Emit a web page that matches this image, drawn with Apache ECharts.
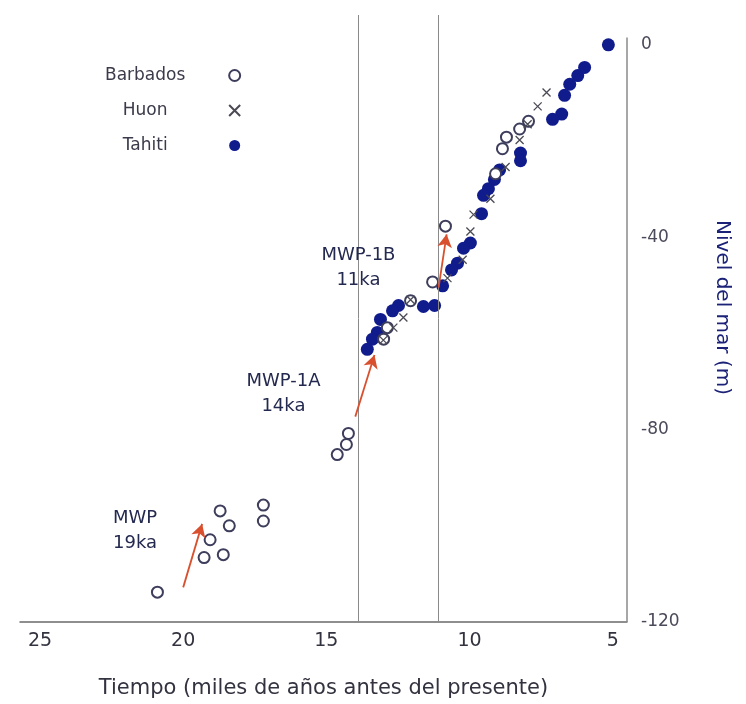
<!DOCTYPE html>
<html>
<head>
<meta charset="utf-8">
<script src="https://cdn.jsdelivr.net/npm/echarts@6/dist/echarts.min.js"></script>
<style>
  html, body { margin: 0; padding: 0; background: #ffffff; }
  #chart { width: 746px; height: 704px; }
</style>
</head>
<body>
<div id="chart"></div>
<script>
// Sea-level records since the last glacial maximum: [age (ka BP), sea level (m)]
const barbados = [
  [20.9, -113.8], [19.27, -106.6], [18.6, -106.0], [19.06, -102.9], [18.71, -96.9],
  [18.39, -100.0], [17.2, -95.7], [17.2, -99.0],
  [14.62, -85.2], [14.3, -83.1], [14.23, -80.8],
  [13.0, -61.2], [12.87, -58.8], [12.06, -53.2], [11.29, -49.3], [10.84, -37.7],
  [9.09, -26.8], [8.85, -21.6], [8.71, -19.2], [8.25, -17.5], [7.94, -15.9]
];
const huon = [
  [7.31, -9.9], [7.62, -12.8], [7.97, -16.5], [8.25, -19.8], [8.74, -25.4],
  [9.27, -32.0], [9.86, -35.3], [9.97, -38.8], [10.24, -44.7], [10.77, -48.5],
  [12.06, -53.0], [12.31, -56.7], [12.66, -58.8], [13.01, -61.4]
];
const tahiti = [
  [5.15, 0], [5.98, -4.7], [6.22, -6.4], [6.5, -8.2], [6.68, -10.5], [6.78, -14.4],
  [7.1, -15.5], [8.22, -22.5], [8.22, -24.1], [8.95, -26.0], [9.13, -28.0],
  [9.34, -29.9], [9.51, -31.3], [9.58, -35.1], [9.97, -41.2], [10.21, -42.3],
  [10.42, -45.4], [10.63, -46.8], [10.94, -50.1], [11.22, -54.2], [11.61, -54.4],
  [12.48, -54.2], [12.69, -55.3], [13.11, -57.1], [13.22, -59.8], [13.39, -61.2],
  [13.57, -63.3]
];

// Tick labels
const ageTicks = [5, 10, 15, 20, 25];
const levelTicks = [0, -40, -80, -120];

// Axis extents: the sea-level axis line stops at LEVEL_TOP, the pulse lines run higher
const AGE_MIN = 4.5, AGE_MAX = 25.7;
const LEVEL_MIN = -120, LEVEL_TOP = 1.5, LEVEL_MAX = 6.2;

// Meltwater pulses: name, age label, reference line age, arrow [from, to], label anchor
const pulseNames = ['MWP-1B', 'MWP-1A', 'MWP'];
const pulseAges = ['11ka', '14ka', '19ka'];
const pulseLineAges = [11.1, 13.9];
const pulseArrows = [
  [[11.08, -50.5], [10.8, -39.4]],
  [[13.99, -77.3], [13.32, -64.5]],
  [[20.0, -112.8], [19.34, -99.6]]
];
const pulseLabelAt = [[13.88, -46.4], [16.5, -72.6], [21.68, -101]];

const FONT = 'DejaVu Sans';
const crossPath = 'path://M0,0L10,10M10,0L0,10';

const chart = echarts.init(document.getElementById('chart'), null, { renderer: 'canvas' });

chart.setOption({
  backgroundColor: '#ffffff',
  animation: false,
  grid: { left: 20, right: 119, top: 15, bottom: 77, containLabel: false },
  legend: {
    orient: 'vertical',
    left: 100,
    top: 62,
    align: 'right',
    itemGap: 18,
    itemWidth: 11,
    itemHeight: 11,
    selectedMode: false,
    formatter: '{t|{name}}',
    textStyle: {
      fontFamily: FONT,
      fontSize: 17,
      color: '#3a3a4a',
      rich: { t: { width: 158, align: 'center', fontFamily: FONT, fontSize: 17, color: '#3a3a4a' } }
    },
    data: ['Barbados', 'Huon', 'Tahiti']
  },
  xAxis: {
    type: 'value',
    inverse: true,
    min: AGE_MIN,
    max: AGE_MAX,
    name: 'Tiempo (miles de años antes del presente)',
    nameLocation: 'middle',
    nameGap: 56,
    nameTextStyle: { fontFamily: FONT, fontSize: 21, color: '#333340' },
    axisLine: { onZero: false, lineStyle: { color: '#6a6a6a', width: 1.5 } },
    axisTick: { show: false },
    splitLine: { show: false },
    axisLabel: {
      customValues: ageTicks,
      margin: 10,
      fontFamily: FONT,
      fontSize: 19,
      color: '#333340'
    }
  },
  yAxis: {
    type: 'value',
    position: 'right',
    min: LEVEL_MIN,
    max: LEVEL_MAX,
    name: 'Nivel del mar (m)',
    nameLocation: 'middle',
    nameRotate: -90,
    nameGap: 85,
    nameTextStyle: { fontFamily: FONT, fontSize: 20, color: '#1b2277', padding: [0, 22, 0, 0] },
    axisLine: { show: false },
    axisTick: { show: false },
    splitLine: { show: false },
    axisLabel: {
      customValues: levelTicks,
      margin: 14,
      fontFamily: FONT,
      fontSize: 17,
      color: '#4a4a5a'
    }
  },
  series: [
    {
      name: 'Barbados',
      type: 'scatter',
      symbol: 'emptyCircle',
      symbolSize: 11,
      itemStyle: { color: '#3d3d5c', borderColor: '#3d3d5c', borderWidth: 1.5, opacity: 1 },
      data: barbados,
      z: 3,
      markLine: {
        silent: true,
        symbol: 'none',
        label: { show: false },
        lineStyle: { color: '#8a8a8a', width: 1, type: 'solid' },
        data: pulseLineAges.map(a => [{ coord: [a, LEVEL_MAX] }, { coord: [a, LEVEL_MIN] }])
          .concat([[
            { coord: [AGE_MIN, LEVEL_TOP], lineStyle: { color: '#8a8a8a', width: 1.5 } },
            { coord: [AGE_MIN, LEVEL_MIN] }
          ]])
      }
    },
    {
      name: 'Huon',
      type: 'scatter',
      symbol: crossPath,
      symbolSize: 8,
      itemStyle: { color: 'none', borderColor: '#4a4a55', borderWidth: 1.3, opacity: 1 },
      data: huon,
      z: 4,
      markLine: {
        silent: true,
        symbol: ['none', 'arrow'],
        symbolSize: [11, 13],
        label: { show: false },
        lineStyle: { color: '#d9502e', width: 1.8, type: 'solid' },
        data: pulseArrows.map(p => [{ coord: p[0] }, { coord: p[1] }])
      }
    },
    {
      name: 'Tahiti',
      type: 'scatter',
      symbol: 'circle',
      symbolSize: 13,
      itemStyle: { color: '#101b8c', opacity: 1 },
      data: tahiti,
      z: 2,
      markPoint: {
        silent: true,
        symbol: 'circle',
        symbolSize: 0,
        label: {
          show: true,
          position: 'inside',
          fontFamily: FONT,
          fontSize: 18,
          lineHeight: 25,
          color: '#24294f',
          align: 'center'
        },
        data: pulseLabelAt.map((c, i) => ({
          coord: c,
          label: { formatter: pulseNames[i] + '\n' + pulseAges[i] }
        }))
      }
    }
  ]
});
</script>
</body>
</html>
